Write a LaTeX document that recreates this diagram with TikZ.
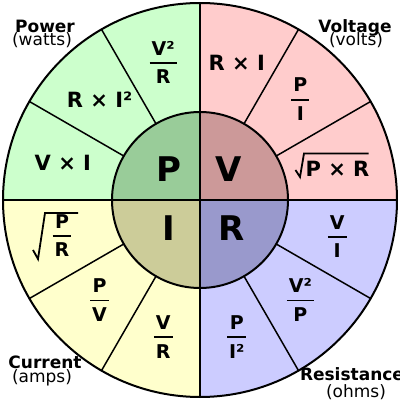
\documentclass[tikz,border=0pt]{standalone}
\usepackage{fontspec}
\setmainfont{DejaVu Sans}
\definecolor{pwL}{HTML}{CCFFCC}
\definecolor{pwD}{HTML}{99CC99}
\definecolor{vL}{HTML}{FFCCCC}
\definecolor{vD}{HTML}{CC9999}
\definecolor{iL}{HTML}{FFFFCC}
\definecolor{iD}{HTML}{CCCC99}
\definecolor{rL}{HTML}{CCCCFF}
\definecolor{rD}{HTML}{9999CC}
\newcommand\frc[2]{{\setlength\arrayrulewidth{1.8pt}\setlength\tabcolsep{2pt}\begin{tabular}{c}#1\\\hline\rule{0pt}{20pt}#2\end{tabular}}}
\begin{document}
\begin{tikzpicture}[x=1pt,y=1pt,
  formula/.style={font=\fontsize{21}{25}\selectfont\bfseries},
  fracf/.style={font=\fontsize{19}{23}\selectfont\bfseries,yshift=-2pt},
  big/.style={font=\fontsize{34}{40}\selectfont\bfseries},
  ttl/.style={font=\fontsize{17}{20}\selectfont\bfseries},
  sub/.style={font=\fontsize{17}{20}\selectfont},
  spoke/.style={line width=1.5pt},
  ring/.style={line width=2pt},
  radical/.style={line width=1.8pt,line join=miter}]
\useasboundingbox (0,0) rectangle (400,400);
\coordinate (O) at (200,200);
\def\Ro{197}
\def\Ri{88}
\def\Rm{142}
% outer quadrants
\fill[pwL] (O) -- ++(90:\Ro) arc[start angle=90,end angle=180,radius=\Ro] -- cycle;
\fill[vL] (O) -- ++(0:\Ro) arc[start angle=0,end angle=90,radius=\Ro] -- cycle;
\fill[iL] (O) -- ++(180:\Ro) arc[start angle=180,end angle=270,radius=\Ro] -- cycle;
\fill[rL] (O) -- ++(270:\Ro) arc[start angle=270,end angle=360,radius=\Ro] -- cycle;
% inner quadrants
\fill[pwD] (O) -- ++(90:\Ri) arc[start angle=90,end angle=180,radius=\Ri] -- cycle;
\fill[vD] (O) -- ++(0:\Ri) arc[start angle=0,end angle=90,radius=\Ri] -- cycle;
\fill[iD] (O) -- ++(180:\Ri) arc[start angle=180,end angle=270,radius=\Ri] -- cycle;
\fill[rD] (O) -- ++(270:\Ri) arc[start angle=270,end angle=360,radius=\Ri] -- cycle;
% spokes
\foreach \a in {30,60,120,150,210,240,300,330}
  \draw[spoke] ([shift={(\a:\Ri)}]O) -- ([shift={(\a:\Ro)}]O);
\draw[spoke] ([shift={(0,\Ro)}]O) -- ([shift={(0,-\Ro)}]O);
\draw[spoke] ([shift={(-\Ro,0)}]O) -- ([shift={(\Ro,0)}]O);
\draw[ring] (O) circle[radius=\Ro];
\draw[ring] (O) circle[radius=\Ri];
% centre letters
\node[big] (P) at ([shift={(-31,31)}]O) {P};
\node[big] (V) at ([shift={(29,31)}]O) {V};
\node[big] (I) at ([shift={(-31,-28)}]O) {I};
\node[big] (R) at ([shift={(32,-28)}]O) {R};
% power
\node[formula] (p1) at ([shift={(165:\Rm)}]O) {V × I};
\node[formula] (p2) at ([shift={(135:\Rm)}]O) {R × I²};
\node[fracf] (p3) at ([shift={(105:\Rm)}]O) {\frc{V²}{R}};
% voltage
\node[formula] (v1) at ([shift={(75:\Rm)}]O) {R × I};
\node[fracf] (v2) at ([shift={(45:\Rm)}]O) {\frc{P}{I}};
\node[formula] (v3) at (337.5,231) {P × R};
\draw[radical] ([shift={(-42,-1)}]v3.center) -- ([shift={(-37.5,-8)}]v3.center)
  -- ([shift={(-33.5,15.5)}]v3.center) -- ([shift={(31,15.5)}]v3.center);
% current
\node[fracf,yshift=2pt] (i1) at (62,162) {\frc{P}{R}};
\draw[radical] ([shift={(-29,-12)}]i1.center) -- ([shift={(-24,-21)}]i1.center)
  -- ([shift={(-17,25)}]i1.center) -- ([shift={(16,25)}]i1.center);
\node[fracf] (i2) at ([shift={(225:\Rm)}]O) {\frc{P}{V}};
\node[fracf] (i3) at ([shift={(255:\Rm)}]O) {\frc{V}{R}};
% resistance
\node[fracf] (r1) at ([shift={(345:\Rm)}]O) {\frc{V}{I}};
\node[fracf] (r2) at ([shift={(315:\Rm)}]O) {\frc{V²}{P}};
\node[fracf] (r3) at ([shift={(285:\Rm)}]O) {\frc{P}{I²}};
% titles
\node[ttl] (tP) at (45,374) {Power};
\node[sub] (sP) at (42,360) {(watts)};
\node[ttl] (tV) at (355,372) {Voltage};
\node[sub] (sV) at (356,360) {(volts)};
\node[ttl] (tI) at (45,37.5) {Current};
\node[sub] (sI) at (42,22) {(amps)};
\node[ttl] (tR) at (352,26) {Resistance};
\node[sub] (sR) at (356,8) {(ohms)};
\end{tikzpicture}
\end{document}
